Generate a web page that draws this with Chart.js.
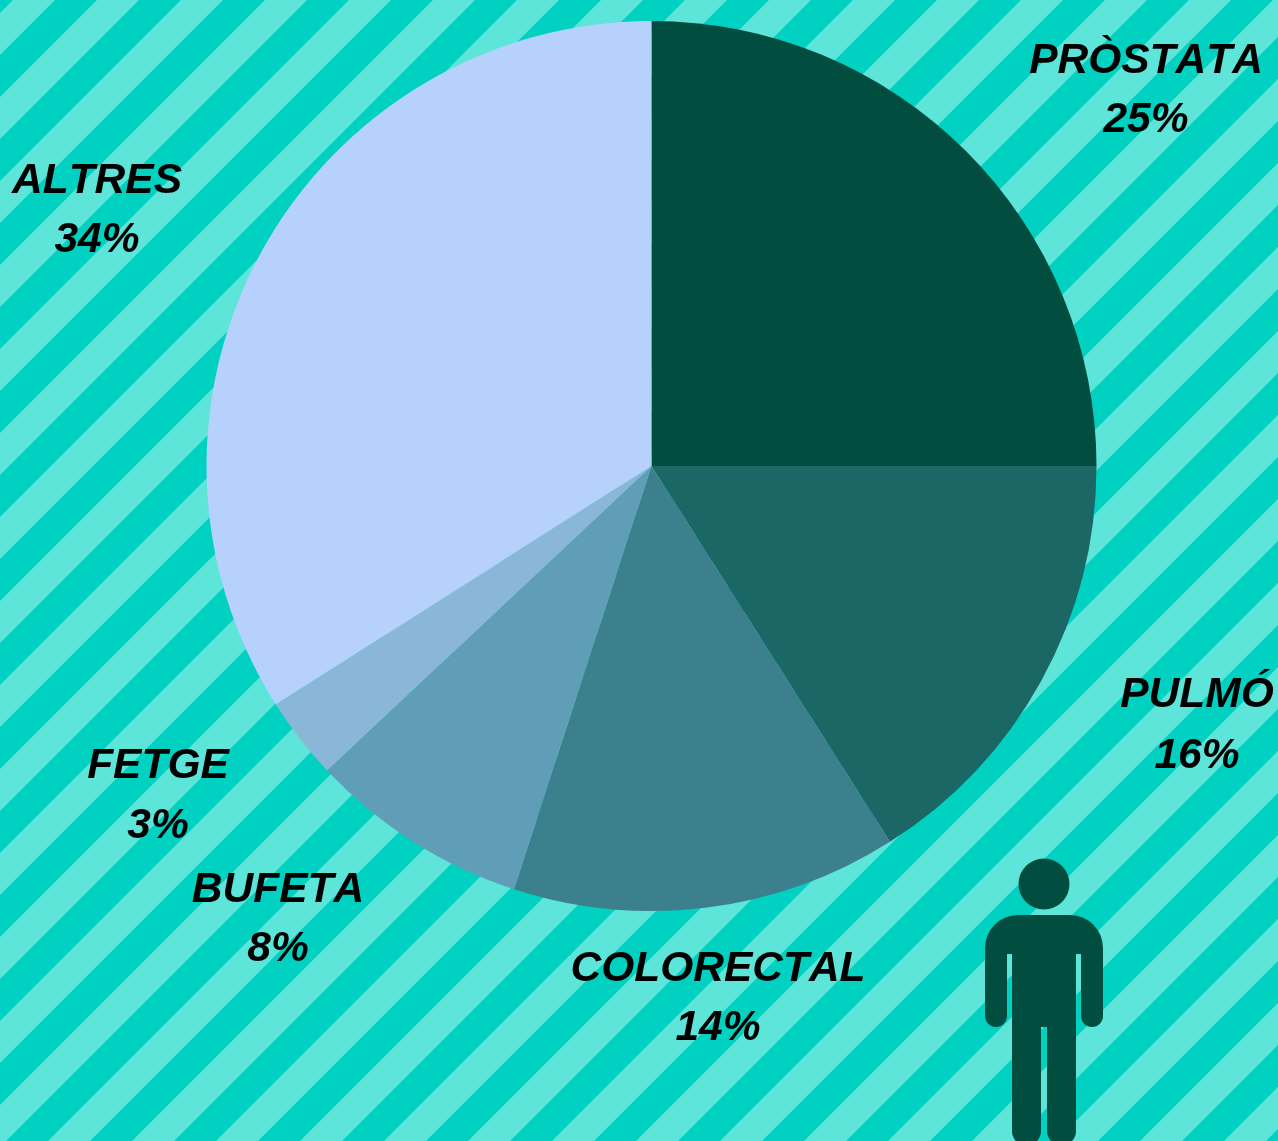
<!DOCTYPE html>
<html>
<head>
<meta charset="utf-8">
<title>Càncer en homes</title>
<script src="https://cdn.jsdelivr.net/npm/chart.js@4"></script>
<style>
	html, body { margin: 0; padding: 0; background: #00d1c1; overflow: hidden; }
	canvas { display: block; }
</style>
</head>
<body>
<canvas id="pie-chart" width="1278" height="1141"></canvas>
<script>
const categories = ['PRÒSTATA', 'PULMÓ', 'COLORECTAL', 'BUFETA', 'FETGE', 'ALTRES'];
const values = [25, 16, 14, 8, 3, 34];
const sliceColors = ['#014d40', '#1b6766', '#3c808d', '#609eb7', '#8ab6d8', '#b6d1fb'];

// where each label sits: [center x, first baseline, second baseline]
const labelSpots = [
	[1146, 73, 132],
	[1197, 707, 768],
	[718, 981, 1040],
	[278, 902, 961],
	[158, 778, 838],
	[97, 193, 252],
];

// diagonal stripes behind the pie
const stripesPlugin = {
	id: 'stripes',
	beforeDraw(chart) {
		const { ctx, width, height } = chart;
		ctx.save();
		ctx.fillStyle = '#00d1c1';
		ctx.fillRect(0, 0, width, height);
		ctx.fillStyle = '#5ce5d8';
		const period = 84;
		const band = 42;
		for (let s = 13; s < width + height + period; s += period) {
			ctx.beginPath();
			ctx.moveTo(s, 0);
			ctx.lineTo(s + band, 0);
			ctx.lineTo(s + band - height, height);
			ctx.lineTo(s - height, height);
			ctx.closePath();
			ctx.fill();
		}
		ctx.restore();
	},
};

const labelsPlugin = {
	id: 'sliceLabels',
	afterDraw(chart) {
		const { ctx } = chart;
		ctx.save();
		ctx.fillStyle = '#000';
		ctx.font = 'italic bold 42.5px "Liberation Sans"';
		ctx.fontKerning = 'none';
		ctx.textAlign = 'center';
		ctx.textBaseline = 'alphabetic';
		categories.forEach((name, i) => {
			const [x, y1, y2] = labelSpots[i];
			ctx.fillText(name, x, y1);
			ctx.fillText(values[i] + '%', x, y2);
		});
		ctx.restore();
	},
};

// little man, bottom right
const personPlugin = {
	id: 'person',
	afterDraw(chart) {
		const { ctx } = chart;
		ctx.save();
		ctx.fillStyle = '#014d40';
		ctx.beginPath();
		ctx.arc(1044, 884, 25.5, 0, Math.PI * 2);
		ctx.fill();
		ctx.beginPath();
		ctx.moveTo(985, 948);
		ctx.arc(1018, 948, 33, Math.PI, Math.PI * 1.5);
		ctx.lineTo(1070, 915);
		ctx.arc(1070, 948, 33, Math.PI * 1.5, 0);
		ctx.lineTo(1103, 1016);
		ctx.arc(1092, 1016, 11, 0, Math.PI);
		ctx.lineTo(1081, 954);
		ctx.lineTo(1076, 954);
		ctx.lineTo(1076, 1131);
		ctx.arc(1061.5, 1131, 14.5, 0, Math.PI);
		ctx.lineTo(1047, 1027);
		ctx.lineTo(1041, 1027);
		ctx.lineTo(1041, 1131);
		ctx.arc(1026.5, 1131, 14.5, 0, Math.PI);
		ctx.lineTo(1012, 954);
		ctx.lineTo(1007, 954);
		ctx.lineTo(1007, 1016);
		ctx.arc(996, 1016, 11, 0, Math.PI);
		ctx.closePath();
		ctx.fill();
		ctx.restore();
	},
};

new Chart(document.getElementById('pie-chart').getContext('2d'), {
	type: 'pie',
	data: {
		labels: categories,
		datasets: [{ data: values, backgroundColor: sliceColors, borderWidth: 0 }],
	},
	options: {
		responsive: false,
		animation: false,
		layout: { padding: { left: 206.5, right: 181.5, top: 21, bottom: 230 } },
		plugins: {
			legend: { display: false },
			tooltip: { enabled: false },
		},
	},
	plugins: [stripesPlugin, labelsPlugin, personPlugin],
});
</script>
</body>
</html>
